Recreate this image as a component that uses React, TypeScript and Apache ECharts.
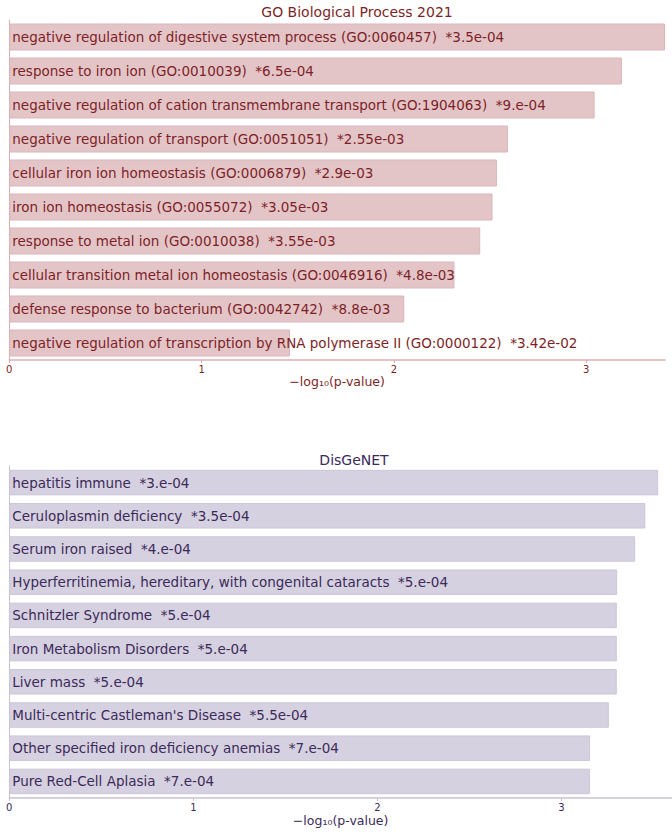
import React, { useEffect, useRef } from "react";
import * as echarts from "echarts";

const goTitle = "GO Biological Process 2021";
const goTerms = [
  "negative regulation of digestive system process (GO:0060457)",
  "response to iron ion (GO:0010039)",
  "negative regulation of cation transmembrane transport (GO:1904063)",
  "negative regulation of transport (GO:0051051)",
  "cellular iron ion homeostasis (GO:0006879)",
  "iron ion homeostasis (GO:0055072)",
  "response to metal ion (GO:0010038)",
  "cellular transition metal ion homeostasis (GO:0046916)",
  "defense response to bacterium (GO:0042742)",
  "negative regulation of transcription by RNA polymerase II (GO:0000122)",
];
const goPvals = ["3.5e-04", "6.5e-04", "9.e-04", "2.55e-03", "2.9e-03", "3.05e-03", "3.55e-03", "4.8e-03", "8.8e-03", "3.42e-02"];
const goScores = [3.41, 3.186, 3.044, 2.593, 2.536, 2.513, 2.449, 2.315, 2.054, 1.46];

const dgTitle = "DisGeNET";
const dgTerms = [
  "hepatitis immune",
  "Ceruloplasmin deficiency",
  "Serum iron raised",
  "Hyperferritinemia, hereditary, with congenital cataracts",
  "Schnitzler Syndrome",
  "Iron Metabolism Disorders",
  "Liver mass",
  "Multi-centric Castleman's Disease",
  "Other specified iron deficiency anemias",
  "Pure Red-Cell Aplasia",
];
const dgPvals = ["3.e-04", "3.5e-04", "4.e-04", "5.e-04", "5.e-04", "5.e-04", "5.e-04", "5.5e-04", "7.e-04", "7.e-04"];
const dgScores = [3.525, 3.455, 3.4, 3.302, 3.3, 3.3, 3.3, 3.257, 3.155, 3.154];

const axisName = "\u2212log\u2081\u2080(p-value)";

const FONT = "DejaVu Sans";

export default function App() {
  const ref = useRef<HTMLDivElement>(null);

  useEffect(() => {
    if (!ref.current) return;
    const chart = echarts.init(ref.current, undefined, { renderer: "svg" });

    const goText = "#7d1f27";
    const goBar = "#e4c5c7";
    const goEdge = "#dbb5b9";
    const goAxis = "#dcaeb2";

    const dgText = "#3b2a5a";
    const dgBar = "#d6d1e0";
    const dgEdge = "#ccc6d9";
    const dgAxis = "#c6c1d2";

    const makeX = (gi: number, max: number, color: string, textColor: string, gap: number) => ({
      type: "value",
      gridIndex: gi,
      min: 0,
      max,
      interval: 1,
      splitLine: { show: false },
      axisLine: { show: true, lineStyle: { color, width: 1.5 } },
      axisTick: { show: true, length: 3, lineStyle: { color } },
      axisLabel: {
        color: textColor,
        fontFamily: FONT,
        fontSize: 10,
        margin: 4,
        showMaxLabel: false,
        formatter: (v: number) => (Number.isInteger(v) ? String(v) : ""),
      },
      name: axisName,
      nameLocation: "middle",
      nameGap: gap,
      nameTextStyle: { color: textColor, fontFamily: FONT, fontSize: 12.5 },
    });

    const makeY = (gi: number, data: string[], color: string) => ({
      type: "category",
      gridIndex: gi,
      data,
      inverse: true,
      axisLine: { show: true, lineStyle: { color, width: 1 } },
      axisTick: { show: false },
      axisLabel: { show: false },
      splitLine: { show: false },
    });

    chart.setOption({
      animation: false,
      backgroundColor: "#ffffff",
      title: [
        {
          text: goTitle,
          left: 352,
          top: 0,
          textAlign: "center",
          textStyle: { color: goText, fontFamily: FONT, fontSize: 14, fontWeight: "normal" },
        },
        {
          text: dgTitle,
          left: 349,
          top: 448,
          textAlign: "center",
          textStyle: { color: dgText, fontFamily: FONT, fontSize: 14, fontWeight: "normal" },
        },
      ],
      grid: [
        { left: 9.3, top: 20, width: 655.7, height: 340 },
        { left: 9.3, top: 466, width: 663.5, height: 332 },
      ],
      xAxis: [makeX(0, 3.41, goAxis, goText, 15), makeX(1, 3.6, dgAxis, dgText, 15.5)],
      yAxis: [makeY(0, goTerms, goAxis), makeY(1, dgTerms, dgAxis)],
      series: [
        {
          type: "bar",
          xAxisIndex: 0,
          yAxisIndex: 0,
          data: goScores,
          barWidth: 27,
          itemStyle: { color: goBar, borderColor: goEdge, borderWidth: 1 },
          label: {
            show: true,
            position: "insideLeft",
            distance: 3,
            color: goText,
            fontFamily: FONT,
            fontSize: 13.5,
            formatter: (p: any) => `${goTerms[p.dataIndex]}\u00a0 *${goPvals[p.dataIndex]}`,
          },
        },
        {
          type: "bar",
          xAxisIndex: 1,
          yAxisIndex: 1,
          data: dgScores,
          barWidth: 25.5,
          itemStyle: { color: dgBar, borderColor: dgEdge, borderWidth: 1 },
          label: {
            show: true,
            position: "insideLeft",
            distance: 3,
            color: dgText,
            fontFamily: FONT,
            fontSize: 13.5,
            formatter: (p: any) => `${dgTerms[p.dataIndex]}\u00a0 *${dgPvals[p.dataIndex]}`,
          },
        },
      ],
    });

    return () => chart.dispose();
  }, []);

  return (
    <div
      ref={ref}
      style={{ position: "absolute", left: 0, top: 0, width: 672, height: 832 }}
    />
  );
}
